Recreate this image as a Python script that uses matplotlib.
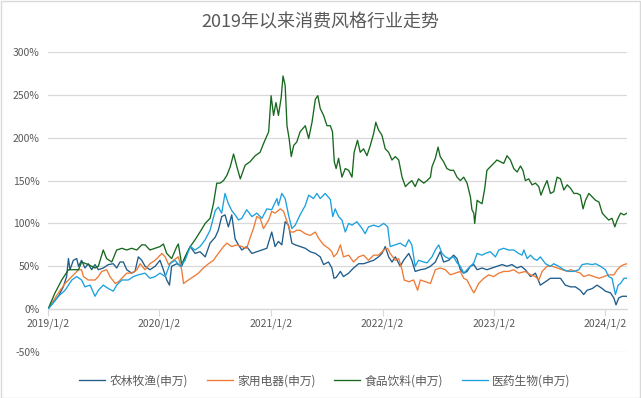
import matplotlib
matplotlib.use("Agg")
import matplotlib.pyplot as plt
import matplotlib.dates as mdates
import matplotlib.ticker as mticker
import pandas as pd

plt.rcParams['font.family'] = ['Noto Sans CJK SC', 'DejaVu Sans']

title = "2019年以来消费风格行业走势"
start_date = "2019-01-02"
series_names = ["农林牧渔(申万)", "家用电器(申万)", "食品饮料(申万)", "医药生物(申万)"]
tick_labels = ["2019/1/2", "2020/1/2", "2021/1/2", "2022/1/2", "2023/1/2", "2024/1/2"]
tick_dates = ["2019-01-02", "2020-01-02", "2021-01-02", "2022-01-02", "2023-01-02", "2024-01-02"]

# days since 2019-01-02 and cumulative return (%)
nonglin_days = [0, 34, 50, 61, 67, 72, 83, 94, 100, 110, 121, 132, 143, 154, 165, 181, 198, 214, 225, 236, 247, 258, 274, 285, 296, 307, 318, 334, 351, 367, 378, 389, 398, 405, 422, 438, 455, 466, 482, 498, 515, 531, 548, 558, 569, 580, 591, 602, 613, 624, 635, 651, 668, 684, 701, 717, 733, 744, 755, 766, 777, 788, 799, 810, 826, 843, 859, 876, 892, 903, 919, 930, 937, 944, 958, 968, 985, 1001, 1018, 1034, 1050, 1067, 1083, 1094, 1105, 1116, 1127, 1138, 1154, 1165, 1182, 1192, 1203, 1220, 1236, 1253, 1269, 1285, 1296, 1313, 1329, 1340, 1351, 1362, 1373, 1384, 1395, 1406, 1422, 1438, 1455, 1471, 1488, 1504, 1520, 1537, 1550, 1564, 1581, 1597, 1613, 1630, 1646, 1662, 1679, 1695, 1712, 1728, 1744, 1755, 1766, 1783, 1799, 1816, 1826, 1843, 1854, 1861, 1870, 1881, 1897]
nonglin_vals = [0, 15, 26, 38, 59, 46, 57, 59, 50, 57, 48, 53, 46, 52, 46, 48, 52, 53, 48, 55, 55, 46, 42, 44, 61, 57, 50, 46, 50, 57, 46, 34, 28, 50, 53, 50, 65, 73, 65, 67, 61, 77, 84, 92, 108, 110, 96, 110, 82, 75, 69, 73, 65, 67, 69, 71, 90, 73, 79, 75, 102, 98, 77, 75, 73, 71, 67, 65, 61, 52, 55, 48, 36, 37, 44, 38, 42, 48, 53, 53, 55, 57, 61, 65, 73, 61, 55, 61, 50, 57, 65, 57, 44, 46, 47, 50, 55, 67, 55, 57, 63, 59, 46, 42, 44, 50, 52, 46, 48, 46, 48, 50, 52, 50, 52, 48, 50, 46, 38, 42, 28, 32, 36, 36, 36, 28, 26, 26, 22, 17, 22, 24, 28, 24, 21, 19, 13, 5, 13, 15, 15]

jiadian_days = [0, 34, 56, 67, 89, 100, 110, 116, 132, 154, 165, 176, 192, 203, 220, 231, 247, 258, 274, 291, 302, 313, 318, 334, 351, 373, 384, 395, 411, 427, 438, 444, 460, 477, 493, 509, 526, 542, 558, 575, 586, 602, 619, 635, 651, 662, 673, 684, 695, 706, 723, 733, 744, 761, 772, 783, 794, 805, 815, 826, 843, 859, 876, 886, 903, 919, 930, 936, 947, 958, 968, 985, 1001, 1018, 1034, 1050, 1067, 1083, 1100, 1113, 1121, 1138, 1149, 1160, 1167, 1182, 1198, 1211, 1220, 1236, 1253, 1269, 1285, 1302, 1318, 1335, 1351, 1362, 1373, 1384, 1395, 1400, 1411, 1428, 1444, 1460, 1477, 1493, 1509, 1526, 1542, 1564, 1581, 1597, 1608, 1619, 1635, 1652, 1668, 1684, 1701, 1712, 1728, 1744, 1755, 1772, 1788, 1805, 1821, 1837, 1854, 1865, 1876, 1887, 1897]
jiadian_vals = [0, 19, 30, 34, 42, 46, 46, 38, 34, 34, 38, 44, 46, 38, 30, 32, 38, 42, 42, 46, 53, 48, 46, 53, 57, 65, 61, 52, 57, 61, 46, 30, 34, 38, 42, 48, 53, 57, 65, 73, 77, 73, 75, 73, 71, 83, 94, 108, 106, 94, 104, 114, 112, 117, 114, 102, 90, 90, 92, 92, 88, 86, 90, 83, 75, 71, 67, 61, 65, 75, 61, 63, 55, 61, 63, 57, 63, 63, 69, 71, 65, 57, 59, 46, 34, 32, 34, 22, 34, 32, 30, 46, 48, 46, 40, 42, 44, 36, 34, 26, 19, 22, 30, 36, 40, 38, 42, 44, 44, 46, 42, 44, 40, 38, 34, 44, 50, 50, 48, 46, 44, 46, 44, 42, 38, 40, 38, 36, 38, 40, 40, 46, 50, 52, 53]

shipin_days = [0, 23, 45, 67, 100, 110, 132, 154, 165, 181, 192, 209, 225, 242, 258, 274, 291, 307, 318, 334, 351, 367, 378, 389, 405, 422, 427, 438, 449, 466, 482, 498, 515, 531, 542, 553, 564, 575, 586, 597, 608, 619, 630, 646, 662, 679, 695, 706, 723, 731, 739, 747, 755, 764, 770, 777, 783, 790, 797, 805, 815, 826, 843, 854, 865, 876, 884, 892, 903, 914, 925, 932, 938, 944, 952, 963, 974, 985, 996, 1003, 1014, 1023, 1034, 1045, 1056, 1067, 1074, 1083, 1094, 1105, 1116, 1127, 1138, 1149, 1160, 1171, 1182, 1192, 1203, 1214, 1231, 1242, 1253, 1258, 1269, 1278, 1285, 1296, 1307, 1318, 1329, 1340, 1351, 1362, 1373, 1384, 1389, 1395, 1398, 1406, 1413, 1422, 1431, 1438, 1449, 1460, 1471, 1482, 1493, 1504, 1515, 1526, 1537, 1548, 1556, 1564, 1575, 1586, 1597, 1608, 1615, 1626, 1635, 1646, 1657, 1668, 1679, 1690, 1701, 1712, 1723, 1734, 1744, 1753, 1761, 1772, 1783, 1794, 1805, 1816, 1826, 1837, 1848, 1857, 1865, 1876, 1887, 1897]
shipin_vals = [0, 19, 34, 46, 46, 55, 52, 48, 50, 69, 59, 55, 69, 71, 69, 71, 69, 75, 75, 69, 71, 73, 76, 65, 59, 73, 76, 52, 61, 73, 81, 90, 100, 106, 123, 147, 147, 150, 156, 166, 181, 166, 152, 168, 172, 179, 183, 193, 207, 249, 226, 241, 226, 247, 272, 261, 214, 199, 178, 191, 195, 207, 214, 199, 218, 245, 249, 234, 226, 214, 214, 207, 172, 164, 176, 154, 164, 162, 154, 183, 197, 183, 187, 179, 191, 205, 218, 209, 203, 187, 183, 174, 178, 174, 154, 143, 147, 150, 143, 152, 147, 150, 154, 166, 176, 189, 178, 172, 164, 162, 162, 154, 150, 154, 147, 131, 116, 112, 100, 127, 125, 123, 141, 162, 166, 170, 174, 172, 170, 179, 174, 164, 160, 167, 162, 150, 152, 145, 147, 143, 133, 143, 150, 135, 137, 154, 152, 139, 145, 141, 135, 135, 133, 117, 127, 135, 131, 127, 125, 112, 108, 104, 106, 96, 104, 112, 110, 112]

yiyao_days = [0, 34, 56, 78, 94, 110, 121, 138, 154, 165, 181, 198, 214, 225, 242, 263, 280, 296, 318, 334, 351, 367, 384, 400, 416, 433, 449, 466, 482, 498, 515, 531, 548, 558, 569, 580, 591, 602, 613, 624, 635, 651, 668, 684, 701, 717, 733, 750, 755, 766, 777, 788, 799, 810, 826, 843, 854, 870, 881, 892, 908, 925, 933, 941, 952, 963, 974, 985, 996, 1012, 1029, 1039, 1050, 1067, 1083, 1100, 1113, 1121, 1138, 1154, 1171, 1182, 1192, 1203, 1214, 1231, 1242, 1258, 1269, 1280, 1291, 1302, 1313, 1329, 1340, 1351, 1362, 1373, 1384, 1395, 1406, 1422, 1433, 1449, 1466, 1477, 1493, 1509, 1526, 1542, 1553, 1559, 1570, 1581, 1591, 1602, 1613, 1630, 1646, 1657, 1673, 1690, 1706, 1723, 1739, 1750, 1766, 1783, 1794, 1810, 1826, 1837, 1848, 1859, 1868, 1876, 1887, 1897]
yiyao_vals = [0, 15, 22, 34, 38, 34, 26, 28, 15, 22, 28, 24, 21, 28, 34, 34, 38, 40, 42, 36, 38, 42, 38, 53, 57, 50, 57, 73, 69, 73, 81, 92, 115, 119, 112, 135, 123, 115, 110, 104, 106, 116, 108, 112, 106, 117, 116, 129, 121, 135, 129, 110, 94, 98, 110, 121, 133, 129, 135, 129, 135, 128, 108, 117, 108, 104, 90, 100, 98, 102, 94, 88, 96, 98, 96, 100, 96, 73, 75, 77, 73, 81, 75, 50, 57, 55, 54, 61, 69, 75, 65, 61, 59, 61, 54, 50, 42, 46, 50, 54, 65, 63, 65, 67, 61, 69, 71, 69, 69, 65, 63, 69, 59, 63, 59, 57, 61, 53, 50, 53, 50, 46, 44, 44, 46, 52, 53, 52, 53, 50, 46, 38, 36, 17, 28, 30, 36, 36]

colors = ["#1F5C8A", "#EE7A35", "#17681E", "#1BA1DD"]

fig = plt.figure(figsize=(6.41, 3.98), dpi=100)
fig.patches.append(plt.Rectangle((0.001, 0.001), 0.997, 0.997, transform=fig.transFigure,
                                 fill=False, edgecolor="#D9D9D9", linewidth=1.0))
ax = fig.add_axes([48 / 641, 1 - 352 / 398, (627 - 48) / 641, (352 - 52) / 398])

t0 = pd.Timestamp(start_date)
all_days = [nonglin_days, jiadian_days, shipin_days, yiyao_days]
all_vals = [nonglin_vals, jiadian_vals, shipin_vals, yiyao_vals]
for name, d, v, c in zip(series_names, all_days, all_vals, colors):
    dates = t0 + pd.to_timedelta(d, unit="D")
    ax.plot(dates, v, color=c, linewidth=0.95, label=name)

ax.set_ylim(-50, 300)
ax.set_yticks(range(-50, 301, 50))
ax.yaxis.set_major_formatter(mticker.FuncFormatter(lambda v, p: f"{int(v)}%"))
ax.set_xlim(t0, t0 + pd.Timedelta(days=max(nonglin_days)))
ax.set_xticks(pd.to_datetime(tick_dates))
ax.set_xticklabels(tick_labels)

ax.grid(axis="y", color="#D9D9D9", linewidth=0.9)
ax.set_axisbelow(True)
for s in ["top", "right", "left"]:
    ax.spines[s].set_visible(False)
ax.spines["bottom"].set_position(("data", 0))
ax.spines["bottom"].set_color("#D9D9D9")
ax.spines["bottom"].set_linewidth(0.9)
ax.tick_params(axis="y", length=0, labelsize=7.5, labelcolor="#595959", pad=6)
ax.tick_params(axis="x", length=5, color="#D9D9D9", labelsize=7.5, labelcolor="#595959", pad=2)

fig.text(0.5, 1 - 22 / 398, title, ha="center", va="center", fontsize=13, color="#595959")

leg = fig.legend(loc="center", bbox_to_anchor=(325 / 641, 1 - 381 / 398), ncol=4, frameon=False,
                 fontsize=8.5, handlelength=2.2, columnspacing=1.6, handletextpad=0.35)
for t in leg.get_texts():
    t.set_color("#595959")

fig.savefig("out.png", dpi=100)
